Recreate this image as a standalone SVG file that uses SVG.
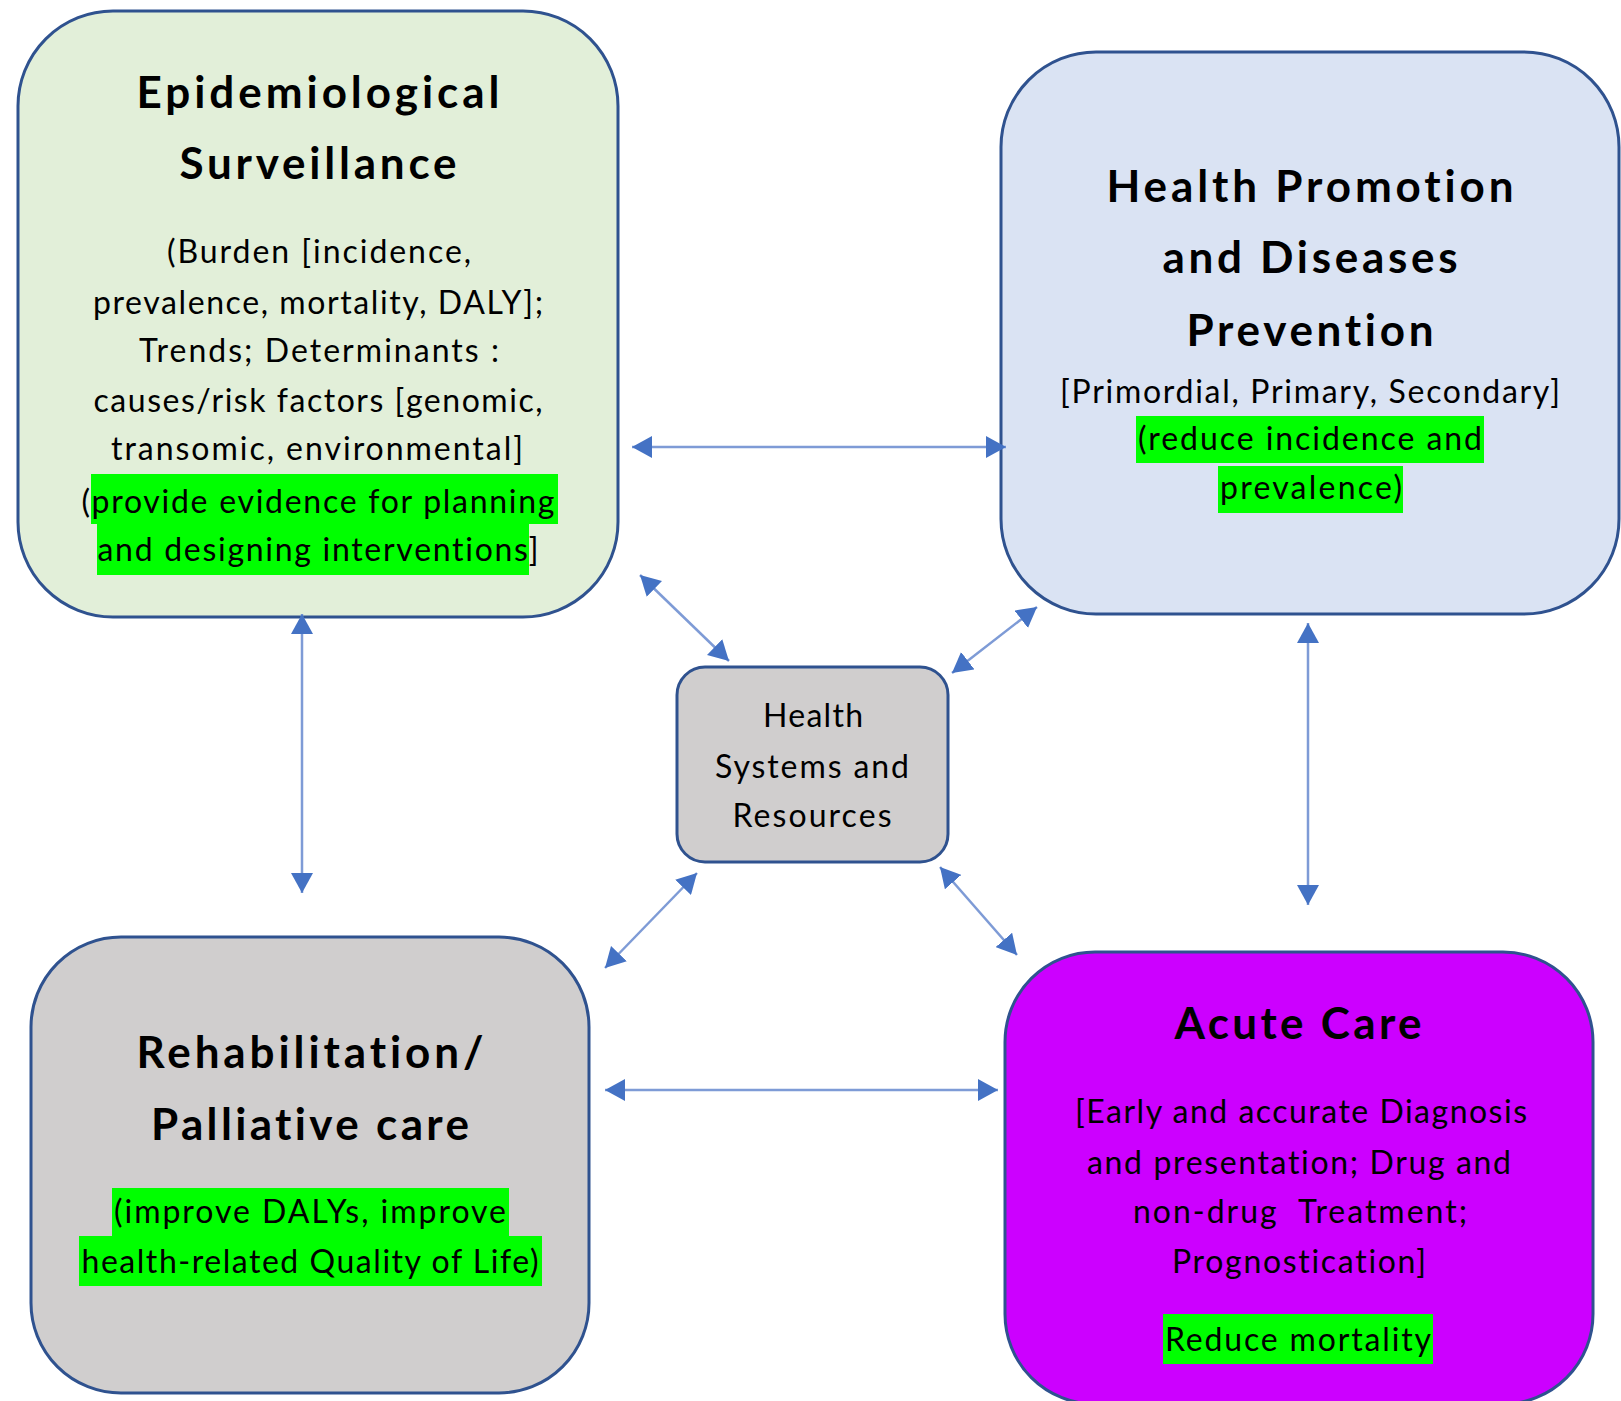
<svg xmlns="http://www.w3.org/2000/svg" width="1621" height="1401" viewBox="0 0 1621 1401">
<style>
.box{stroke:#2F528F;stroke-width:3}
text{font-variant-ligatures:none;font-feature-settings:"liga" 0,"clig" 0}
.title{font-family:Lato,"Open Sans","Liberation Sans",sans-serif;font-weight:bold;font-size:44px;fill:#000;text-anchor:middle}
.body{font-family:Lato,"Open Sans","Liberation Sans",sans-serif;font-size:32px;fill:#000;text-anchor:middle}
.hl{fill:#00FF00}
.conn{stroke:#7E9BD6;stroke-width:2.5;fill:none;marker-start:url(#ah);marker-end:url(#ah)}
</style>
<defs>
<marker id="ah" markerUnits="userSpaceOnUse" markerWidth="22" markerHeight="22" refX="20" refY="11" orient="auto-start-reverse" viewBox="0 0 22 22">
<path d="M0,0 L20,11 L0,22 z" fill="#4472C4"/>
</marker>
</defs>
<rect width="1621" height="1401" fill="#fff"/>

<g id="epidemiological-surveillance">
<rect class="box" x="18" y="11" width="600" height="606" rx="95" ry="95" fill="#E2EFD9"/>
<rect class="hl" x="91" y="474" width="467" height="50"/>
<rect class="hl" x="97" y="524" width="432" height="51"/>
<text class="title" x="318" y="108" textLength="363">Epidemiological</text>
<text class="title" x="318" y="179" textLength="277">Surveillance</text>
<text class="body" x="319" y="263" textLength="304">(Burden [incidence,</text>
<text class="body" x="318" y="314" textLength="450">prevalence, mortality, DALY];</text>
<text class="body" x="319" y="362" textLength="360">Trends; Determinants :</text>
<text class="body" x="318" y="412" textLength="449">causes/risk factors [genomic,</text>
<text class="body" x="317" y="460" textLength="412">transomic, environmental]</text>
<text class="body" x="318" y="513" textLength="473">(provide evidence for planning</text>
<text class="body" x="318" y="561" textLength="441">and designing interventions]</text>
</g>

<g id="health-promotion">
<rect class="box" x="1001" y="52" width="618" height="562" rx="95" ry="95" fill="#DAE3F3"/>
<rect class="hl" x="1136" y="416" width="348" height="47"/>
<rect class="hl" x="1218" y="466" width="185" height="47"/>
<text class="title" x="1310" y="202" textLength="407">Health Promotion</text>
<text class="title" x="1310" y="273" textLength="295">and Diseases</text>
<text class="title" x="1310" y="346" textLength="247">Prevention</text>
<text class="body" x="1310" y="403" textLength="500">[Primordial, Primary, Secondary]</text>
<text class="body" x="1310" y="450" textLength="344">(reduce incidence and</text>
<text class="body" x="1311" y="499" textLength="182">prevalence)</text>
</g>

<g id="health-systems">
<rect class="box" x="677" y="667" width="271" height="195" rx="28" ry="28" fill="#D0CECE"/>
<text class="body" x="813" y="727" textLength="100">Health</text>
<text class="body" x="812" y="778" textLength="194">Systems and</text>
<text class="body" x="812" y="827" textLength="159">Resources</text>
</g>

<g id="rehabilitation">
<rect class="box" x="31" y="937" width="558" height="456" rx="90" ry="90" fill="#D0CECE"/>
<rect class="hl" x="112" y="1188" width="397" height="48"/>
<rect class="hl" x="79" y="1236" width="463" height="50"/>
<text class="title" x="310" y="1068" textLength="347">Rehabilitation/</text>
<text class="title" x="310" y="1140" textLength="318">Palliative care</text>
<text class="body" x="310" y="1223" textLength="392">(improve DALYs, improve</text>
<text class="body" x="310" y="1273" textLength="457">health-related Quality of Life)</text>
</g>

<g id="acute-care">
<rect class="box" x="1005" y="952" width="588" height="452" rx="90" ry="90" fill="#CC00FF"/>
<rect class="hl" x="1163" y="1314" width="270" height="50"/>
<text class="title" x="1298" y="1039" textLength="247">Acute Care</text>
<text class="body" x="1301" y="1123" textLength="452">[Early and accurate Diagnosis</text>
<text class="body" x="1299" y="1174" textLength="424">and presentation; Drug and</text>
<text class="body" x="1300" y="1223" textLength="334" xml:space="preserve">non-drug  Treatment;</text>
<text class="body" x="1299" y="1273" textLength="254">Prognostication]</text>
<text class="body" x="1298" y="1351" textLength="266">Reduce mortality</text>
</g>

<g id="connectors">
<line class="conn" x1="632" y1="447" x2="1006" y2="447"/>
<line class="conn" x1="640" y1="575" x2="729" y2="661"/>
<line class="conn" x1="1037" y1="607" x2="952" y2="673"/>
<line class="conn" x1="697" y1="873" x2="605" y2="968"/>
<line class="conn" x1="940" y1="867" x2="1017" y2="955"/>
<line class="conn" x1="302" y1="614" x2="302" y2="893"/>
<line class="conn" x1="1308" y1="623" x2="1308" y2="905"/>
<line class="conn" x1="605" y1="1090" x2="998" y2="1090"/>
</g>
</svg>
